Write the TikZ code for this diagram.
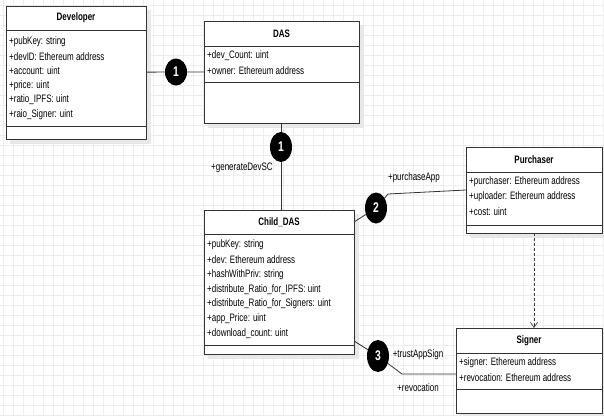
\documentclass[tikz,border=0pt]{standalone}
\usepackage{fontspec}
\setmainfont{Liberation Sans}[FakeStretch=0.74]
\usetikzlibrary{shapes.geometric,arrows.meta}

\tikzset{
  gridline/.style={draw=black!7, line width=0.4pt},
  boxshadow/.style={fill=black!9},
  umlbox/.style={draw=black!80, line width=0.9pt, fill=white, inner sep=0pt, outer sep=0pt},
  umlline/.style={draw=black!80, line width=0.9pt},
  ttl/.style={font=\fontsize{10.8}{12}\selectfont\bfseries, inner sep=0pt},
  attr/.style={anchor=west, font=\fontsize{10.8}{12}\selectfont, inner sep=0pt},
  lbl/.style={font=\fontsize{10.8}{12}\selectfont, inner sep=0pt},
  badge/.style={ellipse, fill=black, text=white, inner sep=0pt,
    minimum width=22pt, minimum height=28pt, font=\fontsize{14}{14}\selectfont\bfseries},
  conn/.style={draw=black!80, line width=0.8pt},
  dep/.style={draw=black!75, line width=0.7pt, dashed, dash pattern=on 3pt off 2pt,
    -{Straight Barb[length=5pt,width=7pt]}}
}

% #1 name, #2 left, #3 top, #4 right, #5 header rule, #6 operations rule, #7 bottom, #8 title
\newcommand\umlclass[8]{%
  \fill[boxshadow] (#2+4,#3+4) rectangle (#4+5,#7+5);
  \node[umlbox, anchor=north west, minimum width={#4-#2}, minimum height={#7-#3}] (#1) at (#2,#3) {};
  \draw[umlline] (#2,#5) -- (#4,#5);
  \draw[umlline] (#2,#6) -- (#4,#6);
  \node[ttl] (#1-title) at ({(#2+#4)/2},{(#3+#5)/2}) {#8};
}

\begin{document}
\begin{tikzpicture}[x=1pt,y=-1pt]
\useasboundingbox (0,0) rectangle (604,415);
\fill[white] (0,0) rectangle (604,415);

% background grid
\foreach \gx in {3,13,...,603} \draw[gridline] (\gx,0) -- (\gx,415);
\foreach \gy in {5,15,...,415} \draw[gridline] (0,\gy) -- (604,\gy);

% classes
\umlclass{dev}{6}{6}{146}{30}{126}{139}{Developer}
\node[attr] (dev-a1) at (9,42) {+pubKey: string};
\node[attr] (dev-a2) at (9,56.5) {+devID: Ethereum address};
\node[attr] (dev-a3) at (9,71) {+account: uint};
\node[attr] (dev-a4) at (9,85.5) {+price: uint};
\node[attr] (dev-a5) at (9,100) {+ratio\_IPFS: uint};
\node[attr] (dev-a6) at (9,114.5) {+raio\_Signer: uint};

\umlclass{das}{204}{21}{359}{46}{82}{123}{DAS}
\node[attr] (das-a1) at (207,56) {+dev\_Count: uint};
\node[attr] (das-a2) at (207,71) {+owner: Ethereum address};

\umlclass{child}{204}{210}{354}{234}{345}{354}{Child\_DAS}
\node[attr] (child-a1) at (207,245) {+pubKey: string};
\node[attr] (child-a2) at (207,260) {+dev: Ethereum address};
\node[attr] (child-a3) at (207,275) {+hashWithPriv: string};
\node[attr] (child-a4) at (207,289.5) {+distribute\_Ratio\_for\_IPFS: uint};
\node[attr] (child-a5) at (207,304) {+distribute\_Ratio\_for\_Signers: uint};
\node[attr] (child-a6) at (207,319) {+app\_Price: uint};
\node[attr] (child-a7) at (207,334) {+download\_count: uint};

\umlclass{pur}{466}{147}{602}{172}{225}{233}{Purchaser}
\node[attr] (pur-a1) at (469,182) {+purchaser: Ethereum address};
\node[attr] (pur-a2) at (469,197) {+uploader: Ethereum address};
\node[attr] (pur-a3) at (469,211.5) {+cost: uint};

\umlclass{sig}{456}{328}{602}{353}{389}{413}{Signer}
\node[attr] (sig-a1) at (459,363) {+signer: Ethereum address};
\node[attr] (sig-a2) at (459,378) {+revocation: Ethereum address};

% association badges
\node[badge, minimum height=27pt] (c1a) at (176,72) {1};
\node[badge, minimum height=30pt] (c1b) at (281,147) {1};
\node[badge, minimum height=31pt] (c2) at (376,208) {2};
\node[badge, minimum height=32pt] (c3) at (378,356) {3};

% bend points of the associations
\coordinate (p2) at (354,222);
\coordinate (k2) at (388,194);
\coordinate (p3) at (354,341);
\coordinate (k3) at (402,374);

% associations
\draw[conn] (dev) -- (c1a) -- (das);
\draw[conn] (c1b |- das.south) -- (c1b) -- (c1b |- child.north);
\draw[conn] (p2) -- (c2) -- (k2) -- (pur.west);
\draw[conn] (p3) -- (c3) -- (k3) -- (sig.west |- k3);
\draw[dep] (pur.south) -- (pur.south |- sig.north);

% association labels
\node[lbl] (l-gen) at (242,168) {+generateDevSC};
\node[lbl] (l-pur) at (414,178) {+purchaseApp};
\node[lbl] (l-trust) at (418,355) {+trustAppSign};
\node[lbl] (l-rev) at (418,388) {+revocation};
\end{tikzpicture}
\end{document}
